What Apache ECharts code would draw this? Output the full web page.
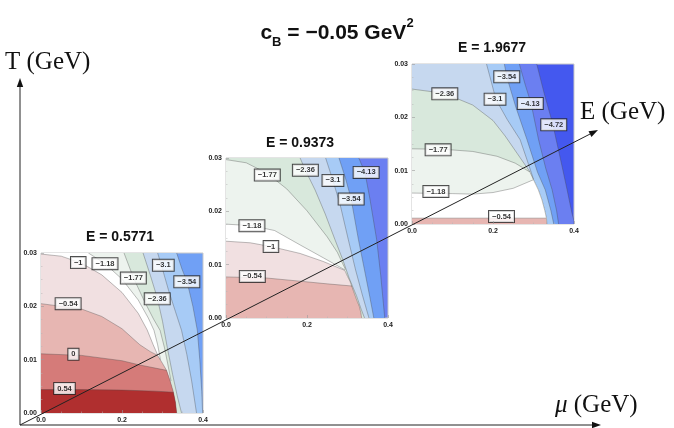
<!DOCTYPE html>
<html>
<head>
<meta charset="utf-8">
<script src="https://cdn.jsdelivr.net/npm/echarts@6/dist/echarts.min.js"></script>
<style>
  html, body { margin: 0; padding: 0; background: #fff; }
  #chart { width: 674px; height: 428px; }
</style>
</head>
<body>
<div id="chart"></div>
<script>
// ---- contour levels and the colour of the band just above each level ----
const LEVELS      = [0.54, 0, -0.54, -1, -1.18, -1.77, -2.36, -3.1, -3.54, -4.13, -4.72];
const BAND_COLORS = ['#b02f2f', '#d57b79', '#e7b6b2', '#f1e0e1', '#ffffff', '#edf3ee',
                     '#d8e8dc', '#c6d8ef', '#a7cbf6', '#70a0f5', '#6b7ff1'];
const DEEPEST_COLOR = '#4458ef';

const MU_TICKS = [0, 0.2, 0.4];
const T_TICKS  = [0, 0.01, 0.02, 0.03];
const ENERGIES = [0.5771, 0.9373, 1.9677];

// ---- E = 0.5771 : contour lines [mu, T] ----
const e1Transition = [[0.288,0.0108],[0.300,0.0093],[0.310,0.0080],[0.319,0.0060],[0.327,0.0039],[0.332,0.0020],[0.335,0]];
const e1Lvl054  = [[0,0.0044],[0.1,0.0044],[0.2,0.0043],[0.28,0.0041],[0.327,0.0039]];
const e1Lvl0    = [[0,0.0111],[0.1,0.0108],[0.2,0.0098],[0.244,0.0090],[0.310,0.0080]];
const e1LvlM054 = [[0,0.0205],[0.1,0.0195],[0.15,0.0181],[0.2,0.0158],[0.244,0.0128],[0.27,0.0115],[0.288,0.0108]];
const e1LvlM1   = [[0,0.0298],[0.05,0.0294],[0.1,0.0281],[0.15,0.0259],[0.2,0.0226],[0.24,0.0187],[0.262,0.0156],[0.277,0.0128],[0.288,0.0109]];
const e1LvlM118 = [[0.117,0.03],[0.158,0.0280],[0.2,0.0251],[0.24,0.0212],[0.265,0.0178],[0.279,0.0155],[0.288,0.0128],[0.295,0.0100]];
const e1LvlM177 = [[0.205,0.03],[0.228,0.0254],[0.255,0.0210],[0.278,0.0176],[0.294,0.0155],[0.305,0.0122],[0.313,0.0092],[0.321,0.0060]];
const e1LvlM236 = [[0.252,0.03],[0.270,0.0258],[0.287,0.0216],[0.300,0.0172],[0.312,0.0122],[0.325,0.0072],[0.337,0.0030],[0.347,0]];
const e1LvlM31  = [[0.288,0.03],[0.298,0.0275],[0.315,0.0230],[0.332,0.0190],[0.347,0.0155],[0.360,0.0110],[0.372,0.0060],[0.384,0]];
const e1LvlM354 = [[0.335,0.03],[0.348,0.0270],[0.361,0.0245],[0.375,0.0200],[0.386,0.0155],[0.392,0.0100],[0.397,0.0040],[0.399,0]];
const e1Labels  = [[0.092,0.0282,-1],[0.158,0.0280,-1.18],[0.228,0.0253,-1.77],[0.302,0.0277,-3.1],
                   [0.287,0.0214,-2.36],[0.360,0.0246,-3.54],[0.067,0.0205,-0.54],[0.080,0.0110,0],[0.058,0.0046,0.54]];

// ---- E = 0.9373 ----
const e2Transition = [[0.294,0.0088],[0.300,0.0078],[0.306,0.0069],[0.315,0.0050],[0.323,0.0033],[0.329,0.0022],[0.333,0.0010],[0.335,0]];
const e2LvlM054 = [[0,0.0077],[0.1,0.0075],[0.183,0.0069],[0.25,0.0064],[0.311,0.0060]];
const e2LvlM1   = [[0,0.0144],[0.06,0.0141],[0.111,0.0134],[0.183,0.0121],[0.24,0.0106],[0.294,0.0089]];
const e2LvlM118 = [[0,0.0176],[0.064,0.0173],[0.12,0.0164],[0.183,0.0137],[0.24,0.0113],[0.294,0.0090]];
const e2LvlM177 = [[0,0.0297],[0.05,0.0291],[0.102,0.0271],[0.15,0.0242],[0.2,0.0201],[0.25,0.0152],[0.275,0.0123],[0.288,0.0102],[0.295,0.0091]];
const e2LvlM236 = [[0.183,0.03],[0.196,0.0277],[0.22,0.0240],[0.245,0.0195],[0.269,0.0147],[0.288,0.0110],[0.304,0.0075],[0.322,0.0042],[0.334,0.0016],[0.342,0]];
const e2LvlM31  = [[0.246,0.03],[0.264,0.0258],[0.282,0.0212],[0.302,0.0147],[0.320,0.0090],[0.336,0.0045],[0.353,0]];
const e2LvlM354 = [[0.279,0.03],[0.295,0.0262],[0.309,0.0223],[0.327,0.0147],[0.342,0.0090],[0.355,0.0040],[0.365,0]];
const e2LvlM413 = [[0.328,0.03],[0.343,0.0273],[0.355,0.0225],[0.372,0.0147],[0.382,0.0080],[0.392,0]];
const e2Labels  = [[0.102,0.0268,-1.77],[0.196,0.0277,-2.36],[0.264,0.0258,-3.1],[0.346,0.0273,-4.13],
                   [0.309,0.0223,-3.54],[0.064,0.0173,-1.18],[0.111,0.0134,-1],[0.065,0.0078,-0.54]];

// ---- E = 1.9677 ----
const e3Transition = [[0.292,0.0096],[0.300,0.0083],[0.312,0.0064],[0.321,0.0045],[0.328,0.0025],[0.332,0.0011],[0.333,0]];
const e3LvlM054 = [[0,0.0011],[0.2,0.0011],[0.331,0.0011]];
const e3LvlM118 = [[0,0.0058],[0.1,0.0057],[0.15,0.0056],[0.2,0.0059],[0.25,0.0067],[0.300,0.0083]];
const e3LvlM177 = [[0,0.0141],[0.08,0.0140],[0.15,0.0136],[0.21,0.0127],[0.255,0.0114],[0.292,0.0097]];
const e3LvlM236 = [[0,0.0253],[0.08,0.0245],[0.15,0.0223],[0.2,0.0194],[0.23,0.0165],[0.26,0.0132],[0.28,0.0110],[0.292,0.0097]];
const e3LvlM31  = [[0.184,0.03],[0.196,0.0266],[0.207,0.0234],[0.235,0.0196],[0.267,0.0158],[0.285,0.0118],[0.300,0.0084]];
const e3LvlM354 = [[0.228,0.03],[0.234,0.0276],[0.256,0.0220],[0.284,0.0158],[0.310,0.0097],[0.329,0.0064],[0.343,0.0025],[0.350,0]];
const e3LvlM413 = [[0.265,0.03],[0.280,0.0260],[0.294,0.0226],[0.3125,0.0158],[0.330,0.0105],[0.346,0.0064],[0.357,0.0025],[0.362,0]];
const e3LvlM472 = [[0.308,0.03],[0.326,0.0246],[0.348,0.0186],[0.356,0.0158],[0.370,0.0110],[0.383,0.0064],[0.395,0.0020],[0.400,0.0006],[0.400,0]];
const e3Labels  = [[0.234,0.0276,-3.54],[0.081,0.0244,-2.36],[0.205,0.0234,-3.1],[0.292,0.0226,-4.13],
                   [0.350,0.0186,-4.72],[0.0645,0.0139,-1.77],[0.059,0.0061,-1.18],[0.221,0.0014,-0.54]];

const panels = [
  { transition: e1Transition, labels: e1Labels,
    contours: [[0.54,e1Lvl054],[0,e1Lvl0],[-0.54,e1LvlM054],[-1,e1LvlM1],[-1.18,e1LvlM118],
               [-1.77,e1LvlM177],[-2.36,e1LvlM236],[-3.1,e1LvlM31],[-3.54,e1LvlM354]] },
  { transition: e2Transition, labels: e2Labels,
    contours: [[-0.54,e2LvlM054],[-1,e2LvlM1],[-1.18,e2LvlM118],[-1.77,e2LvlM177],
               [-2.36,e2LvlM236],[-3.1,e2LvlM31],[-3.54,e2LvlM354],[-4.13,e2LvlM413]] },
  { transition: e3Transition, labels: e3Labels,
    contours: [[-0.54,e3LvlM054],[-1.18,e3LvlM118],[-1.77,e3LvlM177],[-2.36,e3LvlM236],
               [-3.1,e3LvlM31],[-3.54,e3LvlM354],[-4.13,e3LvlM413],[-4.72,e3LvlM472]] }
];

// ---- page layout of the three panels (pixels) ----
const PLOT_W = 162, PLOT_H = 160;
const panelBoxes = [
  { left: 41,  top: 253, titleX: 120, titleY: 237 },
  { left: 226, top: 158, titleX: 300, titleY: 143 },
  { left: 412, top: 64,  titleX: 492, titleY: 48 }
];

const T_MAX = T_TICKS[T_TICKS.length - 1];
const MU_MAX = MU_TICKS[MU_TICKS.length - 1];
const SANS = '"Liberation Sans", Arial, sans-serif';
const SERIF = '"Liberation Serif", "Times New Roman", serif';

function fmtLevel(v) { return v < 0 ? '\u2212' + String(-v) : String(v); }
function colorAbove(level) { return BAND_COLORS[LEVELS.indexOf(level)]; }
function colorBelow(level) {
  const i = LEVELS.indexOf(level);
  return i + 1 < BAND_COLORS.length ? BAND_COLORS[i + 1] : DEEPEST_COLOR;
}

// region {f >= level}: the area below / left of the contour, closed along the
// transition line when the contour ends on it
function regionOutline(curve, transition) {
  const pts = [[0, 0]];
  if (curve[0][0] > 0) pts.push([0, T_MAX]);
  curve.forEach(p => pts.push(p));
  const last = curve[curve.length - 1];
  if (last[1] > 0) transition.forEach(p => { if (p[1] < last[1]) pts.push(p); });
  return pts;
}

const grids = [], xAxes = [], yAxes = [], series = [], graphics = [];

panels.forEach((panel, gi) => {
  const box = panelBoxes[gi];
  const ordered = panel.contours.slice().sort((a, b) => a[0] - b[0]);
  const lowest = ordered[0][0];

  grids.push({
    left: box.left, top: box.top, width: PLOT_W, height: PLOT_H,
    show: true, backgroundColor: colorBelow(lowest),
    borderColor: '#c9c9c9', borderWidth: 1,
    containLabel: false, outerBoundsMode: 'none'
  });

  const tickStyle = { show: true, inside: true, length: 3, lineStyle: { color: '#9a9a9a', width: 0.6 } };
  const minorStyle = { show: true, splitNumber: 4, length: 1.5, lineStyle: { color: '#b5b5b5', width: 0.5 } };
  const labelStyle = { fontSize: 7, fontWeight: 'bold', color: '#222', fontFamily: SANS, margin: 4 };

  xAxes.push({
    gridIndex: gi, type: 'value', min: MU_TICKS[0], max: MU_MAX, interval: MU_TICKS[1] - MU_TICKS[0],
    z: 10, axisLine: { show: false }, axisTick: tickStyle, minorTick: minorStyle,
    splitLine: { show: false },
    axisLabel: Object.assign({ formatter: v => v.toFixed(1) }, labelStyle)
  });
  yAxes.push({
    gridIndex: gi, type: 'value', min: T_TICKS[0], max: T_MAX, interval: T_TICKS[1] - T_TICKS[0],
    z: 10, axisLine: { show: false }, axisTick: tickStyle, minorTick: minorStyle,
    splitLine: { show: false },
    axisLabel: Object.assign({ formatter: v => v.toFixed(2) }, labelStyle)
  });

  // filled bands, painted from the lowest level upwards
  const outlines = ordered.map(c => regionOutline(c[1], panel.transition));
  series.push({
    type: 'custom', xAxisIndex: gi, yAxisIndex: gi, silent: true, clip: true, z: 1,
    data: ordered.map(c => c[1][0]),
    renderItem: (params, api) => ({
      type: 'polygon',
      shape: { points: outlines[params.dataIndex].map(p => api.coord(p)) },
      style: { fill: colorAbove(ordered[params.dataIndex][0]), stroke: null }
    })
  });

  // contour lines and the transition line
  const strokes = ordered.map(c => c[1]).concat([panel.transition]);
  series.push({
    type: 'custom', xAxisIndex: gi, yAxisIndex: gi, silent: true, clip: true, z: 2,
    data: strokes.map(s => s[0]),
    renderItem: (params, api) => ({
      type: 'polyline',
      shape: { points: strokes[params.dataIndex].map(p => api.coord(p)) },
      style: { fill: null, stroke: 'rgba(70,70,70,0.5)', lineWidth: 0.7 }
    })
  });

  // boxed contour labels
  series.push({
    type: 'scatter', xAxisIndex: gi, yAxisIndex: gi, silent: true, z: 5,
    symbolSize: 0,
    data: panel.labels.map(l => ({ value: [l[0], l[1]], name: fmtLevel(l[2]) })),
    label: {
      show: true, position: 'inside', formatter: p => p.name,
      fontSize: 7.5, fontWeight: 'bold', color: '#000', fontFamily: SANS,
      backgroundColor: '#fff', borderColor: '#222', borderWidth: 1, padding: [2, 3, 1, 3]
    }
  });

  graphics.push({
    type: 'text', x: box.titleX, y: box.titleY, z: 100,
    style: { text: 'E = ' + ENERGIES[gi].toFixed(4), fontSize: 14, fontWeight: 'bold',
             fontFamily: SANS, fill: '#111', align: 'center', verticalAlign: 'middle' }
  });
});

// ---- the three big axes: T up, mu to the right, E along the diagonal ----
const origin = [20, 425];
const tTip = [20, 78], muTip = [601, 425], eTip = [598, 130];
function arrowHead(from, tip, len, half) {
  const dx = tip[0] - from[0], dy = tip[1] - from[1];
  const d = Math.hypot(dx, dy), ux = dx / d, uy = dy / d;
  const bx = tip[0] - ux * len, by = tip[1] - uy * len;
  return [tip, [bx - uy * half, by + ux * half], [bx + uy * half, by - ux * half]];
}
[tTip, muTip, eTip].forEach(tip => {
  const head = arrowHead(origin, tip, 9, 3.2);
  const base = [(head[1][0] + head[2][0]) / 2, (head[1][1] + head[2][1]) / 2];
  graphics.push({ type: 'line', z: 100, silent: true,
    shape: { x1: origin[0], y1: origin[1], x2: base[0], y2: base[1] },
    style: { stroke: '#222', lineWidth: 1 } });
  graphics.push({ type: 'polygon', z: 100, silent: true,
    shape: { points: head }, style: { fill: '#111' } });
});

graphics.push({ type: 'text', x: 5, y: 62, z: 100,
  style: { text: 'T (GeV)', fontSize: 25, fontFamily: SERIF, fill: '#111', verticalAlign: 'middle' } });
graphics.push({ type: 'text', x: 580, y: 112, z: 100,
  style: { text: 'E (GeV)', fontSize: 25, fontFamily: SERIF, fill: '#111', verticalAlign: 'middle' } });
graphics.push({ type: 'text', x: 555, y: 405, z: 100,
  style: { text: '{i|\u03bc} (GeV)', fontSize: 25, fontFamily: SERIF, fill: '#111', verticalAlign: 'middle',
           rich: { i: { fontSize: 25, fontFamily: SERIF, fontStyle: 'italic', fill: '#111' } } } });

const chart = echarts.init(document.getElementById('chart'), null, { renderer: 'canvas' });
chart.setOption({
  animation: false,
  backgroundColor: '#fff',
  title: {
    text: '{m|c}{s|B}{m| = \u22120.05 GeV}{p|2}',
    left: 'center', top: 12,
    textStyle: {
      rich: {
        m: { fontSize: 21, fontWeight: 'bold', fontFamily: SANS, color: '#111', lineHeight: 32 },
        s: { fontSize: 13, fontWeight: 'bold', fontFamily: SANS, color: '#111', lineHeight: 14, verticalAlign: 'bottom' },
        p: { fontSize: 13, fontWeight: 'bold', fontFamily: SANS, color: '#111', lineHeight: 14, verticalAlign: 'top' }
      }
    }
  },
  grid: grids,
  xAxis: xAxes,
  yAxis: yAxes,
  series: series,
  graphic: graphics
});
</script>
</body>
</html>
